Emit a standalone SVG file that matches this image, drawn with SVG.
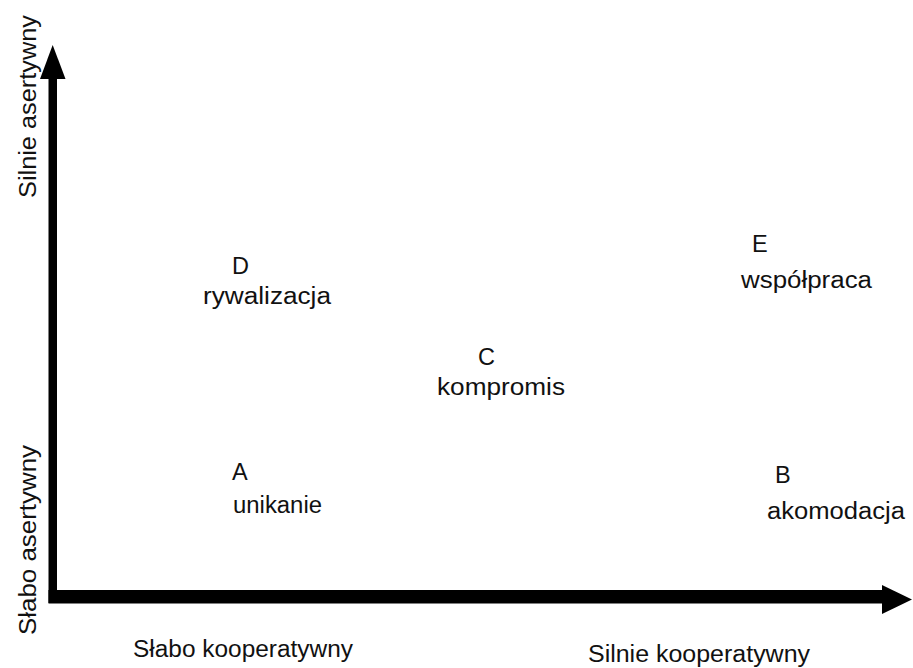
<svg xmlns="http://www.w3.org/2000/svg" width="913" height="668" viewBox="0 0 913 668">
  <style>
    .lbl { font-family: "Liberation Sans", Arial, sans-serif; font-size: 23.5px; fill: #111; }
    .axis { fill: #000; }
  </style>
  <rect width="913" height="668" fill="#fff"/>

  <!-- axes -->
  <g id="connectors">
    <rect class="axis" x="48.5" y="76" width="8.5" height="527"/>
    <polygon class="axis" points="52.7,45 40,79 65.5,79"/>
    <rect class="axis" x="48.5" y="590" width="836" height="13.5"/>
    <polygon class="axis" points="912,599.5 882,585 882,614"/>
  </g>

  <!-- axis labels -->
  <g id="axis-y-high">
    <text class="lbl" transform="translate(36,198) rotate(-90)" textLength="183" lengthAdjust="spacingAndGlyphs">Silnie asertywny</text>
  </g>
  <g id="axis-y-low">
    <text class="lbl" transform="translate(36,635) rotate(-90)" textLength="190" lengthAdjust="spacingAndGlyphs">Słabo asertywny</text>
  </g>
  <g id="axis-x-low">
    <text class="lbl" x="133" y="657" textLength="220" lengthAdjust="spacingAndGlyphs">Słabo kooperatywny</text>
  </g>
  <g id="axis-x-high">
    <text class="lbl" x="588" y="662" textLength="222" lengthAdjust="spacingAndGlyphs">Silnie kooperatywny</text>
  </g>

  <!-- styles -->
  <g id="node-D">
    <text class="lbl" x="232" y="274">D</text>
    <text class="lbl" x="203" y="304" textLength="128" lengthAdjust="spacingAndGlyphs">rywalizacja</text>
  </g>
  <g id="node-E">
    <text class="lbl" x="752" y="252">E</text>
    <text class="lbl" x="741" y="288" textLength="131" lengthAdjust="spacingAndGlyphs">współpraca</text>
  </g>
  <g id="node-C">
    <text class="lbl" x="478" y="365">C</text>
    <text class="lbl" x="437" y="395" textLength="128" lengthAdjust="spacingAndGlyphs">kompromis</text>
  </g>
  <g id="node-A">
    <text class="lbl" x="232" y="480">A</text>
    <text class="lbl" x="233" y="513" textLength="89" lengthAdjust="spacingAndGlyphs">unikanie</text>
  </g>
  <g id="node-B">
    <text class="lbl" x="775" y="483">B</text>
    <text class="lbl" x="767" y="519" textLength="138" lengthAdjust="spacingAndGlyphs">akomodacja</text>
  </g>
</svg>
